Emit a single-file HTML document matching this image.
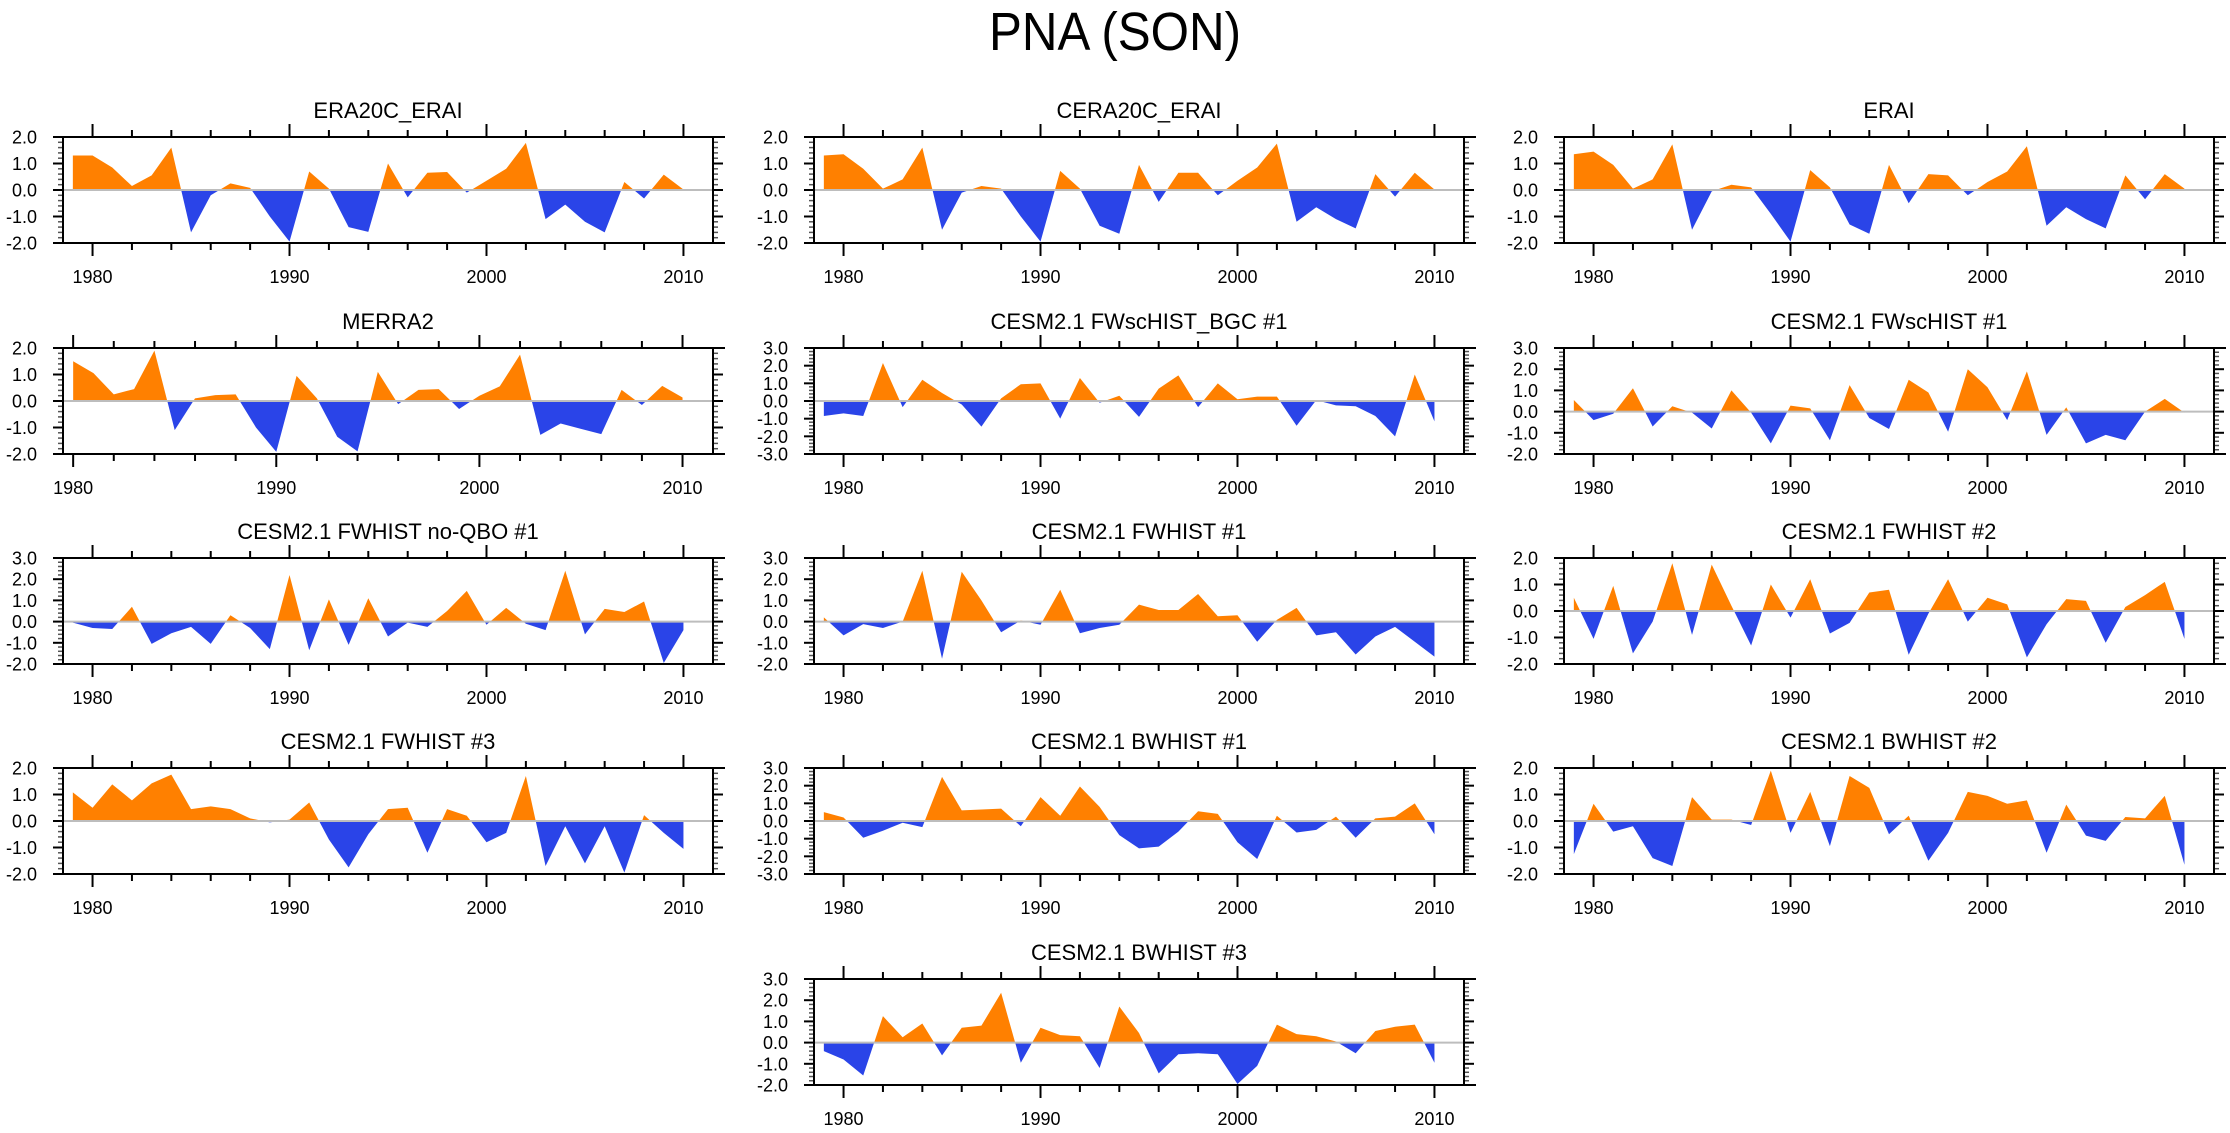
<!DOCTYPE html>
<html><head><meta charset="utf-8"><title>PNA (SON)</title>
<style>
html,body{margin:0;padding:0;background:#fff;}
svg{display:block;font-family:"Liberation Sans",Arial,sans-serif;}
</style></head>
<body>
<svg id="chart" width="2230" height="1133" viewBox="0 0 2230 1133" xmlns="http://www.w3.org/2000/svg">
<rect x="0" y="0" width="2230" height="1133" fill="#fff"/>
<text x="1115" y="50" text-anchor="middle" font-size="54" textLength="252" lengthAdjust="spacingAndGlyphs">PNA (SON)</text>
</svg>
<script>
// ---- data ----
const titles = ["ERA20C_ERAI","CERA20C_ERAI","ERAI","MERRA2","CESM2.1 FWscHIST_BGC #1","CESM2.1 FWscHIST #1","CESM2.1 FWHIST no-QBO #1","CESM2.1 FWHIST #1","CESM2.1 FWHIST #2","CESM2.1 FWHIST #3","CESM2.1 BWHIST #1","CESM2.1 BWHIST #2","CESM2.1 BWHIST #3"];
const startYears = [1979,1979,1979,1980,1979,1979,1979,1979,1979,1979,1979,1979,1979];
const yMins = [-2,-2,-2,-2,-3,-2,-2,-2,-2,-2,-3,-2,-2];
const yMaxs = [2,2,2,2,3,3,3,3,2,2,3,2,3];
const xTickLabels = [1980,1990,2000,2010];
const era20c = [1.3,1.3,0.85,0.15,0.55,1.6,-1.6,-0.2,0.25,0.08,-1.0,-1.95,0.7,0.05,-1.4,-1.58,1.0,-0.28,0.65,0.68,-0.1,0.35,0.8,1.78,-1.1,-0.55,-1.2,-1.6,0.3,-0.32,0.58,0.02];
const cera20c = [1.3,1.35,0.8,0.05,0.4,1.6,-1.5,-0.1,0.15,0.05,-1.0,-1.95,0.72,0.05,-1.35,-1.65,0.95,-0.45,0.65,0.65,-0.2,0.35,0.85,1.75,-1.2,-0.65,-1.1,-1.45,0.6,-0.25,0.65,0.02];
const erai = [1.35,1.45,0.95,0.05,0.4,1.72,-1.5,-0.05,0.2,0.1,-0.9,-1.95,0.75,0.1,-1.3,-1.65,0.95,-0.5,0.6,0.55,-0.2,0.3,0.7,1.65,-1.35,-0.65,-1.1,-1.45,0.55,-0.35,0.6,0.05];
const merra2 = [1.5,1.05,0.25,0.45,1.9,-1.1,0.1,0.22,0.25,-1.0,-1.92,0.95,0.1,-1.35,-1.9,1.1,-0.12,0.42,0.45,-0.3,0.2,0.55,1.75,-1.28,-0.85,-1.05,-1.25,0.42,-0.15,0.57,0.13];
const fwschistBgc1 = [-0.85,-0.7,-0.85,2.15,-0.35,1.2,0.45,-0.2,-1.45,0.15,0.95,1.0,-1.0,1.3,-0.1,0.3,-0.9,0.7,1.45,-0.35,1.0,0.1,0.25,0.25,-1.4,0.05,-0.25,-0.3,-0.85,-2.0,1.5,-1.15];
const fwschist1 = [0.55,-0.4,-0.1,1.1,-0.7,0.25,-0.05,-0.8,1.0,-0.05,-1.5,0.28,0.15,-1.35,1.25,-0.3,-0.82,1.5,0.9,-0.95,2.0,1.15,-0.4,1.9,-1.1,0.2,-1.5,-1.1,-1.35,0.0,0.6,-0.05];
const fwhistNoQbo1 = [-0.05,-0.3,-0.35,0.7,-1.05,-0.55,-0.25,-1.05,0.3,-0.3,-1.3,2.2,-1.35,1.05,-1.1,1.1,-0.7,-0.05,-0.25,0.5,1.45,-0.15,0.65,-0.1,-0.4,2.4,-0.6,0.6,0.45,0.95,-1.95,-0.4];
const fwhist1 = [0.2,-0.65,-0.12,-0.3,0.0,2.4,-1.75,2.35,1.0,-0.5,0.05,-0.15,1.5,-0.55,-0.3,-0.15,0.8,0.55,0.55,1.3,0.25,0.3,-0.95,0.08,0.65,-0.65,-0.5,-1.55,-0.7,-0.25,-0.95,-1.65];
const fwhist2 = [0.5,-1.05,0.95,-1.6,-0.4,1.8,-0.9,1.75,0.2,-1.3,1.0,-0.25,1.2,-0.85,-0.45,0.7,0.8,-1.65,-0.1,1.2,-0.4,0.5,0.25,-1.75,-0.5,0.45,0.38,-1.2,0.15,0.6,1.1,-1.05];
const fwhist3 = [1.08,0.5,1.38,0.78,1.42,1.75,0.45,0.55,0.45,0.1,-0.05,0.05,0.7,-0.7,-1.75,-0.5,0.45,0.5,-1.2,0.45,0.2,-0.8,-0.45,1.7,-1.7,-0.2,-1.6,-0.2,-1.95,0.22,-0.45,-1.05];
const bwhist1 = [0.5,0.2,-0.95,-0.55,-0.1,-0.35,2.5,0.6,0.65,0.7,-0.3,1.35,0.3,1.95,0.8,-0.8,-1.55,-1.45,-0.6,0.55,0.4,-1.2,-2.15,0.3,-0.65,-0.5,0.25,-0.95,0.15,0.25,1.0,-0.75];
const bwhist2 = [-1.25,0.65,-0.4,-0.2,-1.4,-1.7,0.9,0.05,0.05,-0.15,1.9,-0.45,1.1,-0.95,1.7,1.25,-0.5,0.2,-1.5,-0.45,1.1,0.95,0.65,0.78,-1.2,0.62,-0.55,-0.75,0.15,0.1,0.95,-1.65];
const bwhist3 = [-0.4,-0.8,-1.55,1.25,0.25,0.9,-0.6,0.7,0.8,2.35,-0.95,0.7,0.35,0.3,-1.2,1.7,0.45,-1.45,-0.55,-0.5,-0.55,-1.95,-1.1,0.85,0.4,0.3,0.05,-0.5,0.55,0.75,0.85,-0.95];
const allSeries = [era20c,cera20c,erai,merra2,fwschistBgc1,fwschist1,fwhistNoQbo1,fwhist1,fwhist2,fwhist3,bwhist1,bwhist2,bwhist3];

// ---- layout ----
const colLeft = [63, 814, 1564];
const rowTop = [137, 348, 558, 768, 979];
const panelCol = [0,1,2,0,1,2,0,1,2,0,1,2,1];
const panelRow = [0,0,0,1,1,1,2,2,2,3,3,3,4];
const PW = 650, PH = 106;
const NS = "http://www.w3.org/2000/svg";
const svg = document.getElementById("chart");
const ORANGE = "#ff8000", BLUE = "#2a44e8";

function mk(tag, attrs, parent){
  const e = document.createElementNS(NS, tag);
  for (const k in attrs) e.setAttribute(k, attrs[k]);
  (parent||svg).appendChild(e);
  return e;
}
function line(g, x1,y1,x2,y2, w, c){
  const l = mk("line",{x1:x1,y1:y1,x2:x2,y2:y2,stroke:c||"#000","stroke-width":w||2},g);
  
  
  return l;
}

allSeries.forEach((vals, i) => {
  const left = colLeft[panelCol[i]], top = rowTop[panelRow[i]];
  const xmin = startYears[i] === 1980 ? 1979.5 : 1978.5, xmax = 2011.5;
  const ymin = yMins[i], ymax = yMaxs[i];
  const X = yr => left + (yr - xmin) / (xmax - xmin) * PW;
  const Y = v => top + (ymax - v) / (ymax - ymin) * PH;
  const y0 = Y(0);

  const g = mk("g",{});
  
  

  const t = mk("text",{x:left+PW/2, y:top-19, "text-anchor":"middle","font-size":22},g);
  t.textContent = titles[i];
  
  

  // clip paths
  const defs = mk("defs",{},g);
  const cpA = mk("clipPath",{id:"ca"+i},defs);
  mk("rect",{x:left,y:top,width:PW,height:y0-top},cpA);
  const cpB = mk("clipPath",{id:"cb"+i},defs);
  mk("rect",{x:left,y:y0,width:PW,height:top+PH-y0},cpB);

  let pts = X(startYears[i]).toFixed(2)+","+y0.toFixed(2)+" ";
  vals.forEach((v,k) => { pts += X(startYears[i]+k).toFixed(2)+","+Y(v).toFixed(2)+" "; });
  pts += X(startYears[i]+vals.length-1).toFixed(2)+","+y0.toFixed(2);
  const pa = mk("polygon",{points:pts,fill:ORANGE,"clip-path":"url(#ca"+i+")"},g);
  
  
  const pb = mk("polygon",{points:pts,fill:BLUE,"clip-path":"url(#cb"+i+")"},g);
  
  

  const zl = mk("line",{x1:left,x2:left+PW,y1:y0,y2:y0,stroke:"#bdbdbd","stroke-width":2},g);
  
  

  // y ticks
  for (let m = Math.round(ymin*5); m <= Math.round(ymax*5); m++){
    const v = m/5, yy = Y(v), major = (m % 5 === 0);
    const len = major ? 10 : 5;
    line(g, left-len, yy, left, yy, major?2:1.5, major?"#000":"#555");
    line(g, left+PW, yy, left+PW+len, yy, major?2:1.5, major?"#000":"#555");
    if (major){
      const yl = mk("text",{x:left-26,y:yy+6.5,"text-anchor":"end","font-size":18},g);
      yl.textContent = v.toFixed(1);
      
      
    }
  }
  // x ticks
  for (let yr = Math.ceil(xmin); yr <= xmax; yr++){
    if (yr % 2 !== 0) continue;
    const xx = X(yr), major = (yr % 10 === 0);
    const len = major ? 13 : 7;
    line(g, xx, top-len, xx, top, 2);
    line(g, xx, top+PH, xx, top+PH+len, 2);
  }
  xTickLabels.forEach(yr => {
    const xl = mk("text",{x:X(yr),y:top+PH+40,"text-anchor":"middle","font-size":18},g);
    xl.textContent = String(yr);
    
    
  });
  // axis extension lines + frame
  line(g, left-10, top, left+PW+12, top, 2);
  line(g, left-10, top+PH, left+PW+12, top+PH, 2);
  const fr = mk("rect",{x:left,y:top,width:PW,height:PH,fill:"none",stroke:"#000","stroke-width":2},g);
  
  
});
</script>
</body></html>
